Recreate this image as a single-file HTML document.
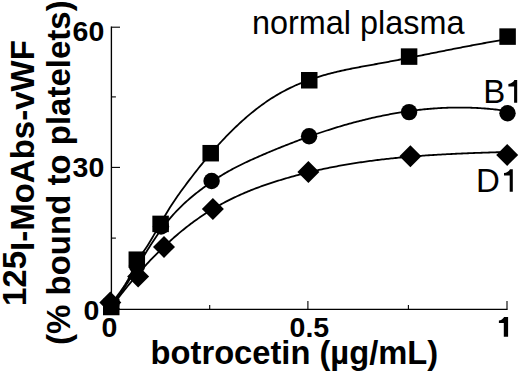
<!DOCTYPE html>
<html><head><meta charset="utf-8"><style>
html,body{margin:0;padding:0;background:#fff;width:520px;height:373px;overflow:hidden}
svg{position:absolute;left:0;top:0}
text{font-family:"Liberation Sans",sans-serif;fill:#000}
.b{font-weight:bold}
</style></head><body>
<svg width="520" height="373" viewBox="0 0 520 373">
<g stroke="#000" stroke-width="1.35" fill="none"><path d="M111.4,26.6 L111.4,309.3 L507.6,309.3"/></g><g stroke="#000" stroke-width="1.1" fill="none"><path d="M111.4,309 L120.0,309"/><path d="M111.4,238.1 L115.9,238.1"/><path d="M111.4,167.4 L120.0,167.4"/><path d="M111.4,96.9 L115.9,96.9"/><path d="M111.4,27.2 L120.0,27.2"/><path d="M111,309.3 L111,300.9"/><path d="M209.7,309.3 L209.7,305.1"/><path d="M307.9,309.3 L307.9,300.9"/><path d="M408.4,309.3 L408.4,305.1"/><path d="M507,309.3 L507,300.9"/></g>
<path d="M111.50,304.85 L113.01,302.35 L114.51,300.00 L116.02,297.78 L117.52,295.64 L119.03,293.54 L120.54,291.45 L122.04,289.32 L123.55,287.11 L125.05,284.79 L126.56,282.31 L128.07,279.64 L129.57,276.74 L131.08,273.63 L132.59,270.41 L134.09,267.21 L135.60,264.12 L137.10,261.28 L138.61,258.73 L140.12,256.41 L141.62,254.23 L143.13,252.10 L144.63,249.96 L146.14,247.72 L147.65,245.40 L149.15,243.00 L150.66,240.52 L152.16,238.00 L153.67,235.42 L155.18,232.81 L156.68,230.18 L158.19,227.53 L159.69,224.87 L161.20,222.23 L162.71,219.60 L164.21,217.01 L165.72,214.45 L167.23,211.94 L168.73,209.50 L170.24,207.10 L171.74,204.76 L173.25,202.47 L174.76,200.22 L176.26,198.01 L177.77,195.85 L179.27,193.71 L180.78,191.60 L182.29,189.52 L183.79,187.47 L185.30,185.43 L186.80,183.41 L188.31,181.40 L189.82,179.41 L191.32,177.44 L192.83,175.48 L194.33,173.54 L195.84,171.61 L197.35,169.70 L198.85,167.81 L200.36,165.93 L201.87,164.07 L203.37,162.23 L204.88,160.41 L206.38,158.60 L207.89,156.81 L209.40,155.04 L210.90,153.28 L212.41,151.54 L213.91,149.82 L215.42,148.12 L216.93,146.44 L218.43,144.77 L219.94,143.12 L221.44,141.49 L222.95,139.88 L224.46,138.29 L225.96,136.72 L227.47,135.16 L228.97,133.63 L230.48,132.11 L231.99,130.61 L233.49,129.13 L235.00,127.67 L236.50,126.23 L238.01,124.81 L239.52,123.41 L241.02,122.03 L242.53,120.66 L244.04,119.32 L245.54,118.00 L247.05,116.69 L248.55,115.41 L250.06,114.15 L251.57,112.90 L253.07,111.68 L254.58,110.48 L256.08,109.29 L257.59,108.13 L259.10,106.99 L260.60,105.87 L262.11,104.76 L263.61,103.68 L265.12,102.62 L266.63,101.58 L268.13,100.56 L269.64,99.57 L271.14,98.59 L272.65,97.63 L274.16,96.70 L275.66,95.78 L277.17,94.88 L278.68,94.01 L280.18,93.15 L281.69,92.31 L283.19,91.49 L284.70,90.69 L286.21,89.90 L287.71,89.13 L289.22,88.38 L290.72,87.65 L292.23,86.94 L293.74,86.24 L295.24,85.55 L296.75,84.89 L298.25,84.23 L299.76,83.60 L301.27,82.97 L302.77,82.37 L304.28,81.77 L305.78,81.19 L307.29,80.63 L308.80,80.08 L310.30,79.54 L311.81,79.01 L313.32,78.49 L314.82,77.99 L316.33,77.50 L317.83,77.02 L319.34,76.55 L320.85,76.10 L322.35,75.65 L323.86,75.21 L325.36,74.79 L326.87,74.37 L328.38,73.96 L329.88,73.56 L331.39,73.17 L332.89,72.79 L334.40,72.42 L335.91,72.05 L337.41,71.69 L338.92,71.34 L340.42,71.00 L341.93,70.66 L343.44,70.33 L344.94,70.00 L346.45,69.68 L347.96,69.37 L349.46,69.06 L350.97,68.75 L352.47,68.45 L353.98,68.16 L355.49,67.86 L356.99,67.57 L358.50,67.29 L360.00,67.00 L361.51,66.72 L363.02,66.45 L364.52,66.17 L366.03,65.89 L367.53,65.62 L369.04,65.35 L370.55,65.07 L372.05,64.80 L373.56,64.53 L375.06,64.26 L376.57,63.99 L378.08,63.71 L379.58,63.44 L381.09,63.16 L382.60,62.89 L384.10,62.61 L385.61,62.33 L387.11,62.05 L388.62,61.76 L390.13,61.48 L391.63,61.19 L393.14,60.91 L394.64,60.62 L396.15,60.33 L397.66,60.04 L399.16,59.75 L400.67,59.46 L402.17,59.17 L403.68,58.87 L405.19,58.58 L406.69,58.28 L408.20,57.99 L409.70,57.69 L411.21,57.39 L412.72,57.09 L414.22,56.80 L415.73,56.50 L417.23,56.20 L418.74,55.90 L420.25,55.60 L421.75,55.30 L423.26,55.00 L424.77,54.69 L426.27,54.39 L427.78,54.09 L429.28,53.79 L430.79,53.49 L432.30,53.19 L433.80,52.89 L435.31,52.58 L436.81,52.28 L438.32,51.98 L439.83,51.68 L441.33,51.38 L442.84,51.08 L444.34,50.78 L445.85,50.48 L447.36,50.18 L448.86,49.88 L450.37,49.59 L451.87,49.29 L453.38,48.99 L454.89,48.69 L456.39,48.40 L457.90,48.10 L459.41,47.81 L460.91,47.52 L462.42,47.23 L463.92,46.94 L465.43,46.65 L466.94,46.36 L468.44,46.07 L469.95,45.78 L471.45,45.50 L472.96,45.21 L474.47,44.93 L475.97,44.65 L477.48,44.37 L478.98,44.09 L480.49,43.81 L482.00,43.53 L483.50,43.26 L485.01,42.99 L486.51,42.72 L488.02,42.45 L489.53,42.18 L491.03,41.91 L492.54,41.65 L494.05,41.39 L495.55,41.13 L497.06,40.87 L498.56,40.61 L500.07,40.36 L501.58,40.10 L503.08,39.85 L504.59,39.61 L506.09,39.36 L507.60,39.12" fill="none" stroke="#000" stroke-width="1.8" stroke-linejoin="round"/>
<path d="M111.50,306.12 L113.01,304.20 L114.51,302.21 L116.02,300.15 L117.52,298.03 L119.03,295.86 L120.53,293.64 L122.04,291.37 L123.55,289.06 L125.05,286.71 L126.56,284.33 L128.06,281.92 L129.57,279.48 L131.07,277.03 L132.58,274.55 L134.09,272.07 L135.59,269.57 L137.10,267.07 L138.60,264.57 L140.11,262.08 L141.61,259.59 L143.12,257.12 L144.63,254.66 L146.13,252.23 L147.64,249.82 L149.14,247.43 L150.65,245.08 L152.15,242.76 L153.66,240.47 L155.17,238.22 L156.67,236.00 L158.18,233.83 L159.68,231.71 L161.19,229.63 L162.69,227.59 L164.20,225.61 L165.71,223.67 L167.21,221.79 L168.72,219.94 L170.22,218.15 L171.73,216.39 L173.23,214.69 L174.74,213.02 L176.25,211.40 L177.75,209.82 L179.26,208.29 L180.76,206.79 L182.27,205.33 L183.77,203.90 L185.28,202.51 L186.79,201.15 L188.29,199.82 L189.80,198.52 L191.30,197.25 L192.81,196.00 L194.31,194.77 L195.82,193.57 L197.33,192.39 L198.83,191.22 L200.34,190.07 L201.84,188.94 L203.35,187.81 L204.85,186.70 L206.36,185.61 L207.87,184.52 L209.37,183.45 L210.88,182.39 L212.38,181.35 L213.89,180.32 L215.39,179.31 L216.90,178.31 L218.40,177.34 L219.91,176.38 L221.42,175.44 L222.92,174.52 L224.43,173.61 L225.93,172.73 L227.44,171.86 L228.94,171.01 L230.45,170.17 L231.96,169.35 L233.46,168.54 L234.97,167.74 L236.47,166.96 L237.98,166.19 L239.48,165.44 L240.99,164.69 L242.50,163.95 L244.00,163.23 L245.51,162.51 L247.01,161.81 L248.52,161.11 L250.02,160.42 L251.53,159.73 L253.04,159.06 L254.54,158.39 L256.05,157.72 L257.55,157.06 L259.06,156.40 L260.56,155.75 L262.07,155.10 L263.58,154.45 L265.08,153.81 L266.59,153.17 L268.09,152.53 L269.60,151.90 L271.10,151.27 L272.61,150.64 L274.12,150.01 L275.62,149.39 L277.13,148.78 L278.63,148.16 L280.14,147.55 L281.64,146.95 L283.15,146.34 L284.66,145.74 L286.16,145.15 L287.67,144.55 L289.17,143.97 L290.68,143.38 L292.18,142.80 L293.69,142.22 L295.20,141.65 L296.70,141.08 L298.21,140.51 L299.71,139.95 L301.22,139.39 L302.72,138.84 L304.23,138.28 L305.74,137.74 L307.24,137.19 L308.75,136.66 L310.25,136.12 L311.76,135.59 L313.26,135.06 L314.77,134.54 L316.28,134.02 L317.78,133.51 L319.29,133.00 L320.79,132.49 L322.30,131.99 L323.80,131.49 L325.31,131.00 L326.82,130.51 L328.32,130.03 L329.83,129.55 L331.33,129.07 L332.84,128.60 L334.34,128.13 L335.85,127.67 L337.36,127.21 L338.86,126.76 L340.37,126.31 L341.87,125.86 L343.38,125.42 L344.88,124.99 L346.39,124.56 L347.90,124.13 L349.40,123.71 L350.91,123.30 L352.41,122.88 L353.92,122.48 L355.42,122.08 L356.93,121.68 L358.44,121.29 L359.94,120.90 L361.45,120.52 L362.95,120.14 L364.46,119.77 L365.96,119.40 L367.47,119.04 L368.98,118.68 L370.48,118.33 L371.99,117.98 L373.49,117.64 L375.00,117.30 L376.50,116.97 L378.01,116.65 L379.52,116.32 L381.02,116.01 L382.53,115.70 L384.03,115.39 L385.54,115.09 L387.04,114.80 L388.55,114.51 L390.06,114.23 L391.56,113.95 L393.07,113.68 L394.57,113.41 L396.08,113.15 L397.58,112.89 L399.09,112.64 L400.60,112.40 L402.10,112.16 L403.61,111.92 L405.11,111.70 L406.62,111.47 L408.12,111.26 L409.63,111.05 L411.13,110.84 L412.64,110.65 L414.15,110.45 L415.65,110.27 L417.16,110.08 L418.66,109.91 L420.17,109.74 L421.67,109.58 L423.18,109.42 L424.69,109.27 L426.19,109.12 L427.70,108.99 L429.20,108.85 L430.71,108.73 L432.21,108.61 L433.72,108.49 L435.23,108.39 L436.73,108.28 L438.24,108.19 L439.74,108.10 L441.25,108.02 L442.75,107.94 L444.26,107.87 L445.77,107.81 L447.27,107.75 L448.78,107.70 L450.28,107.66 L451.79,107.62 L453.29,107.59 L454.80,107.56 L456.31,107.55 L457.81,107.54 L459.32,107.53 L460.82,107.53 L462.33,107.54 L463.83,107.56 L465.34,107.58 L466.85,107.61 L468.35,107.65 L469.86,107.69 L471.36,107.74 L472.87,107.80 L474.37,107.86 L475.88,107.93 L477.39,108.01 L478.89,108.10 L480.40,108.19 L481.90,108.29 L483.41,108.40 L484.91,108.51 L486.42,108.63 L487.93,108.76 L489.43,108.89 L490.94,109.03 L492.44,109.18 L493.95,109.34 L495.45,109.50 L496.96,109.68 L498.47,109.86 L499.97,110.04 L501.48,110.24 L502.98,110.44 L504.49,110.64 L505.99,110.86 L507.50,111.08" fill="none" stroke="#000" stroke-width="1.8" stroke-linejoin="round"/>
<path d="M111.00,307.57 L112.51,305.54 L114.01,303.53 L115.52,301.53 L117.03,299.56 L118.53,297.60 L120.04,295.66 L121.55,293.73 L123.05,291.83 L124.56,289.94 L126.06,288.07 L127.57,286.21 L129.08,284.38 L130.58,282.56 L132.09,280.76 L133.60,278.97 L135.10,277.21 L136.61,275.46 L138.12,273.73 L139.62,272.01 L141.13,270.32 L142.64,268.64 L144.14,266.97 L145.65,265.33 L147.16,263.70 L148.66,262.09 L150.17,260.49 L151.67,258.92 L153.18,257.36 L154.69,255.81 L156.19,254.29 L157.70,252.78 L159.21,251.29 L160.71,249.81 L162.22,248.35 L163.73,246.91 L165.23,245.49 L166.74,244.08 L168.25,242.69 L169.75,241.32 L171.26,239.96 L172.77,238.62 L174.27,237.29 L175.78,235.99 L177.28,234.70 L178.79,233.42 L180.30,232.17 L181.80,230.93 L183.31,229.70 L184.82,228.50 L186.32,227.30 L187.83,226.13 L189.34,224.97 L190.84,223.83 L192.35,222.71 L193.86,221.60 L195.36,220.51 L196.87,219.43 L198.37,218.37 L199.88,217.33 L201.39,216.30 L202.89,215.29 L204.40,214.29 L205.91,213.32 L207.41,212.35 L208.92,211.40 L210.43,210.47 L211.93,209.55 L213.44,208.65 L214.95,207.76 L216.45,206.88 L217.96,206.02 L219.47,205.17 L220.97,204.34 L222.48,203.52 L223.98,202.71 L225.49,201.92 L227.00,201.14 L228.50,200.37 L230.01,199.61 L231.52,198.87 L233.02,198.13 L234.53,197.41 L236.04,196.70 L237.54,196.01 L239.05,195.32 L240.56,194.64 L242.06,193.98 L243.57,193.32 L245.08,192.68 L246.58,192.05 L248.09,191.42 L249.59,190.81 L251.10,190.20 L252.61,189.61 L254.11,189.02 L255.62,188.44 L257.13,187.87 L258.63,187.31 L260.14,186.76 L261.65,186.22 L263.15,185.68 L264.66,185.15 L266.17,184.63 L267.67,184.12 L269.18,183.61 L270.69,183.11 L272.19,182.62 L273.70,182.13 L275.20,181.65 L276.71,181.17 L278.22,180.70 L279.72,180.24 L281.23,179.78 L282.74,179.33 L284.24,178.88 L285.75,178.44 L287.26,178.00 L288.76,177.57 L290.27,177.14 L291.78,176.72 L293.28,176.30 L294.79,175.89 L296.30,175.49 L297.80,175.08 L299.31,174.69 L300.81,174.30 L302.32,173.91 L303.83,173.53 L305.33,173.15 L306.84,172.78 L308.35,172.41 L309.85,172.05 L311.36,171.69 L312.87,171.33 L314.37,170.98 L315.88,170.64 L317.39,170.30 L318.89,169.96 L320.40,169.63 L321.90,169.31 L323.41,168.98 L324.92,168.67 L326.42,168.35 L327.93,168.04 L329.44,167.74 L330.94,167.44 L332.45,167.14 L333.96,166.85 L335.46,166.56 L336.97,166.27 L338.48,165.99 L339.98,165.72 L341.49,165.44 L343.00,165.18 L344.50,164.91 L346.01,164.65 L347.51,164.39 L349.02,164.14 L350.53,163.89 L352.03,163.65 L353.54,163.40 L355.05,163.17 L356.55,162.93 L358.06,162.70 L359.57,162.47 L361.07,162.25 L362.58,162.03 L364.09,161.81 L365.59,161.60 L367.10,161.39 L368.61,161.18 L370.11,160.98 L371.62,160.78 L373.12,160.58 L374.63,160.39 L376.14,160.20 L377.64,160.01 L379.15,159.83 L380.66,159.64 L382.16,159.47 L383.67,159.29 L385.18,159.12 L386.68,158.95 L388.19,158.78 L389.70,158.62 L391.20,158.46 L392.71,158.30 L394.22,158.15 L395.72,157.99 L397.23,157.85 L398.73,157.70 L400.24,157.55 L401.75,157.41 L403.25,157.27 L404.76,157.14 L406.27,157.00 L407.77,156.87 L409.28,156.74 L410.79,156.62 L412.29,156.49 L413.80,156.37 L415.31,156.25 L416.81,156.13 L418.32,156.02 L419.83,155.90 L421.33,155.79 L422.84,155.68 L424.34,155.58 L425.85,155.47 L427.36,155.37 L428.86,155.27 L430.37,155.17 L431.88,155.07 L433.38,154.98 L434.89,154.89 L436.40,154.80 L437.90,154.71 L439.41,154.62 L440.92,154.53 L442.42,154.45 L443.93,154.37 L445.43,154.28 L446.94,154.21 L448.45,154.13 L449.95,154.05 L451.46,153.98 L452.97,153.90 L454.47,153.83 L455.98,153.76 L457.49,153.69 L458.99,153.62 L460.50,153.55 L462.01,153.49 L463.51,153.42 L465.02,153.36 L466.53,153.30 L468.03,153.24 L469.54,153.18 L471.04,153.12 L472.55,153.06 L474.06,153.00 L475.56,152.95 L477.07,152.89 L478.58,152.84 L480.08,152.78 L481.59,152.73 L483.10,152.68 L484.60,152.63 L486.11,152.58 L487.62,152.53 L489.12,152.48 L490.63,152.43 L492.14,152.38 L493.64,152.33 L495.15,152.29 L496.65,152.24 L498.16,152.19 L499.67,152.15 L501.17,152.10 L502.68,152.05 L504.19,152.01 L505.69,151.96 L507.20,151.92" fill="none" stroke="#000" stroke-width="1.8" stroke-linejoin="round"/>

<g fill="#000">
<path d="M110.30,291.40 L121.30,302.40 L110.30,313.40 L99.30,302.40Z"/>
<path d="M138.10,265.60 L149.10,276.60 L138.10,287.60 L127.10,276.60Z"/>
<path d="M164.00,235.90 L175.00,246.90 L164.00,257.90 L153.00,246.90Z"/>
<path d="M212.90,197.90 L223.90,208.90 L212.90,219.90 L201.90,208.90Z"/>
<path d="M308.40,161.10 L319.40,172.10 L308.40,183.10 L297.40,172.10Z"/>
<path d="M410.40,145.20 L421.40,156.20 L410.40,167.20 L399.40,156.20Z"/>
<path d="M507.20,143.90 L518.20,154.90 L507.20,165.90 L496.20,154.90Z"/>
<circle cx="111.2" cy="305" r="8.2"/>
<circle cx="137" cy="266" r="8.2"/>
<circle cx="161" cy="226.5" r="8.2"/>
<circle cx="211.6" cy="181" r="8.2"/>
<circle cx="309.1" cy="136.2" r="8.2"/>
<circle cx="409.1" cy="112.1" r="8.2"/>
<circle cx="507.5" cy="113.2" r="8.2"/>
<rect x="103.00" y="298.75" width="16.5" height="16.5"/>
<rect x="128.55" y="251.45" width="16.5" height="16.5"/>
<rect x="152.35" y="215.65" width="16.5" height="16.5"/>
<rect x="202.45" y="144.95" width="16.5" height="16.5"/>
<rect x="301.00" y="72.00" width="16.5" height="16.5"/>
<rect x="400.85" y="48.35" width="16.5" height="16.5"/>
<rect x="499.35" y="28.35" width="16.5" height="16.5"/>
<path d="M517.20,80.10 L517.20,102.70 L514.10,102.70 L514.10,86.40 L508.40,86.40 L508.40,84.00 C511.10,83.60 513.50,82.10 514.40,80.10 Z"/>
<path d="M512.80,169.20 L512.80,191.70 L509.70,191.70 L509.70,175.50 L504.00,175.50 L504.00,173.10 C506.70,172.70 509.10,171.20 510.00,169.20 Z"/>
<path d="M508.10,316.90 L508.10,336.80 L503.80,336.80 L503.80,322.90 L498.90,322.90 L498.90,320.50 C500.80,320.10 503.20,318.90 504.10,316.90 Z"/>
</g>
<g class="b" font-size="28.5">
<text x="72.6" y="41.2">60</text>
<text x="72.6" y="177.2">30</text>
<text x="83.4" y="320">0</text>
<text x="101.4" y="337">0</text>
<text x="289.6" y="336.6">0.5</text>
</g>
<text x="150.6" y="363.6" class="b" font-size="32.7">botrocetin (µg/mL)</text>
<text transform="translate(33.8,306) rotate(-90)" class="b" font-size="33"><tspan dy="-7.5">125</tspan><tspan dy="7.5">I-MoAbs-vWF</tspan></text>
<text transform="translate(69.9,345) rotate(-90)" class="b" font-size="33">(% bound to platelets)</text>
<text x="252" y="33.8" font-size="32.4">normal plasma</text>
<text x="483.3" y="102.6" font-size="33">B</text>
<text x="476.1" y="191.6" font-size="33">D</text>
</svg>
</body></html>
